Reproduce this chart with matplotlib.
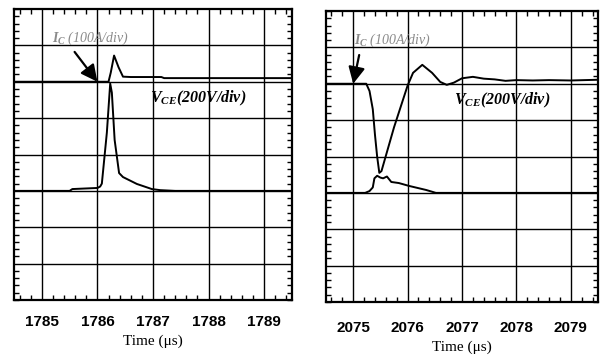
import matplotlib
matplotlib.use("Agg")
import matplotlib.pyplot as plt
from matplotlib.ticker import MultipleLocator

plt.rcParams['mathtext.fontset'] = 'custom'
plt.rcParams['mathtext.it'] = 'Liberation Serif:italic:bold'
plt.rcParams['mathtext.rm'] = 'Liberation Serif:bold'

# traces in divisions (0..8), time in microseconds
t_vce_1 = [1784.5, 1786.2, 1786.24, 1786.30, 1786.38, 1786.46, 1786.6, 1787.15, 1787.2, 1789.5]
vce_1 = [6.0, 6.0, 6.25, 6.72, 6.4, 6.14, 6.13, 6.13, 6.1, 6.1]

t_ic_1 = [1784.5, 1785.5, 1785.55, 1786.0, 1786.05, 1786.08, 1786.17, 1786.23,
          1786.26, 1786.31, 1786.39, 1786.46, 1786.71, 1786.98, 1787.13, 1787.4, 1789.5]
ic_1 = [3.0, 3.0, 3.05, 3.08, 3.12, 3.2, 4.6, 5.95,
        5.7, 4.4, 3.49, 3.38, 3.19, 3.05, 3.02, 3.0, 3.0]

t_vce_2 = [2074.5, 2075.24, 2075.30, 2075.36, 2075.40, 2075.44, 2075.48, 2075.52,
           2075.75, 2076.0, 2076.1, 2076.27, 2076.45, 2076.6, 2076.72, 2076.85,
           2077.0, 2077.2, 2077.4, 2077.6, 2077.8, 2078.0, 2078.3, 2078.6, 2079.0, 2079.5]
vce_2 = [6.0, 6.0, 5.8, 5.3, 4.6, 4.0, 3.55, 3.6,
         4.8, 5.95, 6.3, 6.52, 6.3, 6.05, 5.97, 6.03,
         6.15, 6.19, 6.14, 6.12, 6.08, 6.1, 6.09, 6.1, 6.09, 6.11]

t_ic_2 = [2074.5, 2075.22, 2075.3, 2075.36, 2075.39, 2075.44, 2075.5, 2075.55,
          2075.62, 2075.7, 2075.84, 2076.03, 2076.34, 2076.52, 2079.5]
ic_2 = [3.0, 3.0, 3.05, 3.15, 3.4, 3.47, 3.42, 3.4,
        3.45, 3.3, 3.27, 3.19, 3.08, 3.0, 3.0]

ticks_1 = [1785, 1786, 1787, 1788, 1789]
ticks_2 = [2075, 2076, 2077, 2078, 2079]

fig = plt.figure(figsize=(6.02, 3.58), dpi=100)
ax1 = fig.add_axes([14 / 602, 1 - 300 / 358, 278 / 602, 291 / 358])
ax2 = fig.add_axes([326 / 602, 1 - 302 / 358, 272 / 602, 291 / 358])


def style_panel(ax, ticks, pad):
    ax.set_xlim(ticks[0] - 0.5, ticks[-1] + 0.5)
    ax.set_ylim(0, 8)
    ax.set_xticks(ticks)
    ax.set_xticklabels([str(t) for t in ticks], fontfamily='Liberation Sans',
                       fontsize=11, fontweight='bold')
    ax.set_yticks(range(1, 8))
    ax.set_yticklabels([])
    ax.xaxis.set_minor_locator(MultipleLocator(0.2))
    ax.yaxis.set_minor_locator(MultipleLocator(0.2))
    ax.tick_params(which='both', direction='in', top=True, right=True, color='black')
    ax.tick_params(which='major', length=0, pad=pad)
    ax.tick_params(which='minor', length=3.5, width=1)
    ax.grid(True, which='major', color='black', linewidth=1.0)
    for s in ax.spines.values():
        s.set_linewidth(1.6)
    ax.set_xlabel('Time (μs)', fontfamily='Liberation Serif', fontsize=11, labelpad=4)


style_panel(ax1, ticks_1, 11)
style_panel(ax2, ticks_2, 14)

ax1.plot(t_vce_1, vce_1, color='black', lw=1.4)
ax1.plot(t_ic_1, ic_1, color='black', lw=1.4)
ax2.plot(t_vce_2, vce_2, color='black', lw=1.4)
ax2.plot(t_ic_2, ic_2, color='black', lw=1.4)

lab_kw = dict(fontfamily='Liberation Serif', style='italic', weight='bold', fontsize=11.5)
ax1.text(1786.95, 5.55, r'$V_{CE}$(200V/div)', va='center', **lab_kw)
ax2.text(2076.85, 5.55, r'$V_{CE}$(200V/div)', va='center', **lab_kw)

ic_kw = dict(fontfamily='Liberation Serif', style='italic', fontsize=10, color='#8a8a8a')
ax1.text(1785.18, 7.18, r'$I_C$ (100A/div)', va='center', **ic_kw)
ax2.text(2075.02, 7.2, r'$I_C$ (100A/div)', va='center', **ic_kw)

arr = dict(arrowstyle='-|>,head_length=1.0,head_width=0.5', color='black', lw=1.6,
           shrinkA=0, shrinkB=0)
ax1.annotate('', xy=(1786.0, 6.0), xytext=(1785.59, 6.82), arrowprops=arr)
ax2.annotate('', xy=(2075.0, 6.0), xytext=(2075.11, 6.79), arrowprops=arr)

fig.savefig('out.png', dpi=100)
